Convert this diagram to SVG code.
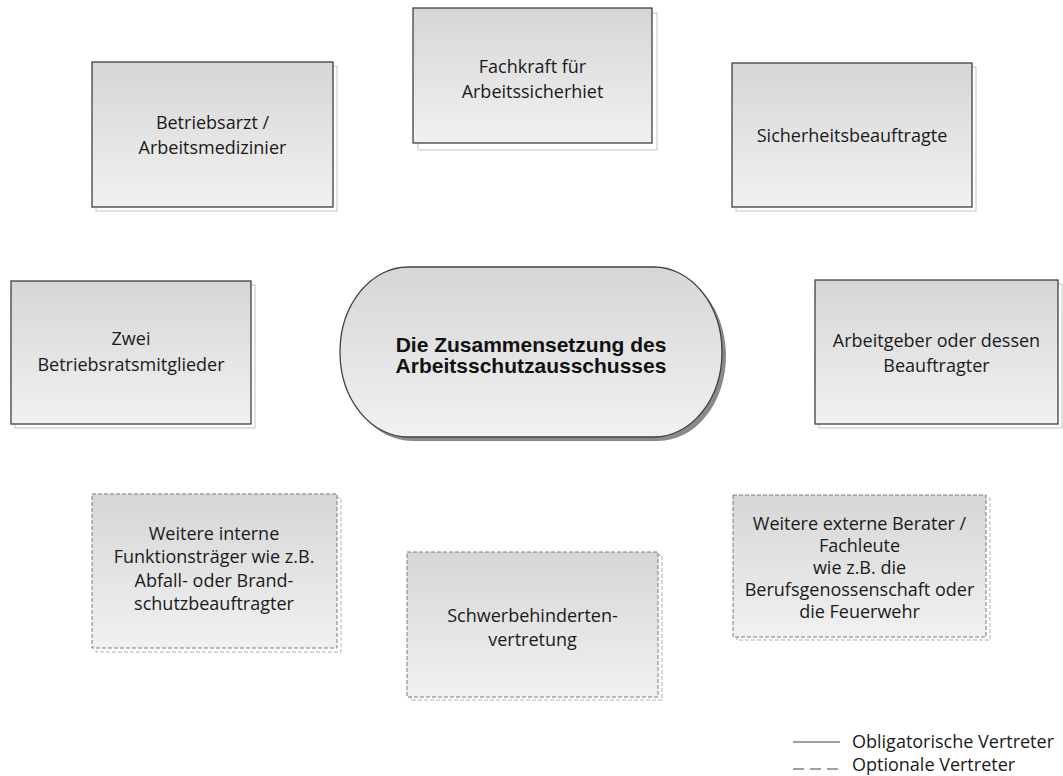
<svg xmlns="http://www.w3.org/2000/svg" width="1063" height="776" viewBox="0 0 1063 776">
<defs>
<linearGradient id="g" x1="0" y1="0" x2="0" y2="1">
<stop offset="0" stop-color="#d6d6d6"/>
<stop offset="1" stop-color="#f1f1f1"/>
</linearGradient>
</defs>
<style>
.box{fill:url(#g);stroke:#404040;stroke-width:1.3}
.sh{fill:#fff;stroke:#c4c4c4;stroke-width:1}
.dbox{fill:url(#g);stroke:#7a7a7a;stroke-width:1;stroke-dasharray:4 2}
.dsh{fill:#fff;stroke:#b0b0b0;stroke-width:1;stroke-dasharray:4 2}
.t{font-family:"Open Sans","Liberation Sans",sans-serif;font-size:18px;fill:#1a1a1a;text-anchor:middle}
.tb{font-family:"Liberation Sans",Arial,sans-serif;font-size:21px;font-weight:bold;fill:#111;text-anchor:middle}
.lg{font-family:"Open Sans","Liberation Sans",sans-serif;font-size:18px;fill:#1a1a1a}
</style>
<rect width="1063" height="776" fill="#fff"/>
<g id="connectors"/>
<g id="center">
<rect x="344" y="271" width="382" height="170" rx="68" ry="85" fill="#8a8a8a"/>
<rect x="340" y="267" width="382" height="170" rx="68" ry="85" fill="url(#g)" stroke="#404040" stroke-width="1.3"/>
<text class="tb" x="531" y="352">Die Zusammensetzung des</text>
<text class="tb" x="531" y="373">Arbeitsschutzausschusses</text>
</g>
<g id="betriebsarzt">
<rect class="sh" x="96" y="66" width="241" height="145"/>
<rect class="box" x="92" y="62" width="241" height="145"/>
<text class="t" x="212.5" y="129">Betriebsarzt /</text>
<text class="t" x="212.5" y="154">Arbeitsmedizinier</text>
</g>
<g id="fachkraft">
<rect class="sh" x="418" y="13" width="239" height="137"/>
<rect class="box" x="413" y="8" width="239" height="135"/>
<text class="t" x="532.5" y="73">Fachkraft für</text>
<text class="t" x="532.5" y="98">Arbeitssicherhiet</text>
</g>
<g id="sicherheitsbeauftragte">
<rect class="sh" x="736" y="67" width="240" height="144"/>
<rect class="box" x="732" y="63" width="240" height="144"/>
<text class="t" x="852" y="142">Sicherheitsbeauftragte</text>
</g>
<g id="betriebsrat">
<rect class="sh" x="15" y="285" width="240" height="143"/>
<rect class="box" x="11" y="281" width="240" height="143"/>
<text class="t" x="131" y="345">Zwei</text>
<text class="t" x="131" y="371">Betriebsratsmitglieder</text>
</g>
<g id="arbeitgeber">
<rect class="sh" x="819" y="284" width="243" height="144"/>
<rect class="box" x="815" y="280" width="243" height="144"/>
<text class="t" x="936.5" y="347">Arbeitgeber oder dessen</text>
<text class="t" x="936.5" y="372">Beauftragter</text>
</g>
<g id="interne">
<rect class="dsh" x="96" y="498" width="245" height="154"/>
<rect class="dbox" x="92" y="494" width="245" height="154"/>
<text class="t" x="214" y="540">Weitere interne</text>
<text class="t" x="214" y="563">Funktionsträger wie z.B.</text>
<text class="t" x="214" y="587">Abfall- oder Brand-</text>
<text class="t" x="214" y="610">schutzbeauftragter</text>
</g>
<g id="schwerbehinderte">
<rect class="dsh" x="411" y="555" width="251" height="145"/>
<rect class="dbox" x="407" y="552" width="251" height="145"/>
<text class="t" x="532.5" y="622">Schwerbehinderten-</text>
<text class="t" x="532.5" y="646">vertretung</text>
</g>
<g id="externe">
<rect class="dsh" x="737" y="498" width="253" height="142"/>
<rect class="dbox" x="733" y="495" width="253" height="142"/>
<text class="t" x="859.5" y="530">Weitere externe Berater /</text>
<text class="t" x="859.5" y="552">Fachleute</text>
<text class="t" x="859.5" y="574">wie z.B. die</text>
<text class="t" x="859.5" y="596">Berufsgenossenschaft oder</text>
<text class="t" x="859.5" y="618">die Feuerwehr</text>
</g>
<g id="legend">
<line x1="793" y1="742" x2="840" y2="742" stroke="#404040" stroke-width="1"/>
<line x1="793" y1="769" x2="840" y2="769" stroke="#404040" stroke-width="1" stroke-dasharray="11 6"/>
<text class="lg" x="852" y="748">Obligatorische Vertreter</text>
<text class="lg" x="852" y="771">Optionale Vertreter</text>
</g>
</svg>
